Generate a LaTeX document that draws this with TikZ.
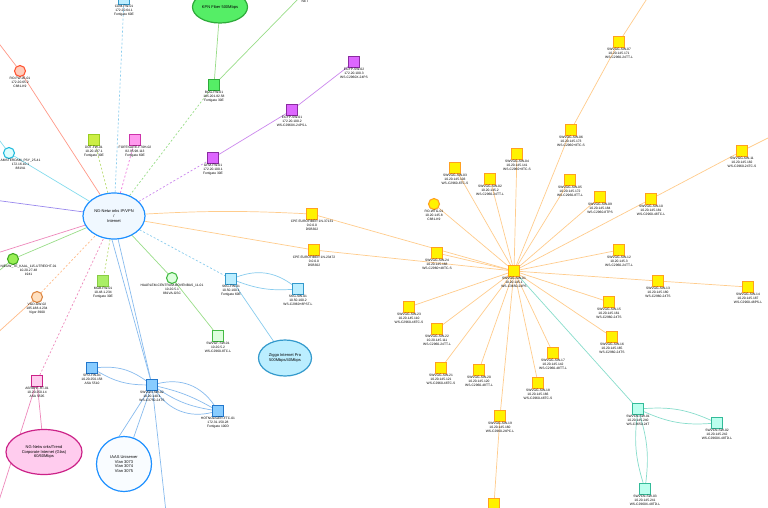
\documentclass[tikz,border=0pt]{standalone}
\usepackage{fontspec}
\setmainfont{Liberation Sans}
\usetikzlibrary{shapes.geometric}
\pgfdeclarelayer{bg}
\pgfsetlayers{bg,main}
\definecolor{cMainB}{HTML}{1E90FF}
\definecolor{cMainF}{HTML}{F0F8FF}
\definecolor{cOr}{HTML}{FFA020}
\definecolor{cYe}{HTML}{FFF200}
\definecolor{cOrL}{HTML}{FFCC8C}
\definecolor{cGrB}{HTML}{2EAA3A}
\definecolor{cGrF}{HTML}{55EE66}
\definecolor{cGrL}{HTML}{99DD88}
\definecolor{cPuB}{HTML}{8A2BA0}
\definecolor{cPuF}{HTML}{DD66FF}
\definecolor{cPuL}{HTML}{CC88EE}
\definecolor{cYgB}{HTML}{99CC22}
\definecolor{cYgF}{HTML}{CCEE44}
\definecolor{cYgL}{HTML}{BBDD77}
\definecolor{cMaB}{HTML}{CC33AA}
\definecolor{cMaF}{HTML}{FF99EE}
\definecolor{cMaL}{HTML}{EE77DD}
\definecolor{cSaB}{HTML}{FF5533}
\definecolor{cSaF}{HTML}{FFCCBB}
\definecolor{cSaL}{HTML}{FF9988}
\definecolor{cCyB}{HTML}{22BBDD}
\definecolor{cCyF}{HTML}{DDFFFF}
\definecolor{cCyL}{HTML}{88DDEE}
\definecolor{cViL}{HTML}{9988EE}
\definecolor{cPkL}{HTML}{EE88BB}
\definecolor{cLgB}{HTML}{44AA22}
\definecolor{cLgF}{HTML}{99EE55}
\definecolor{cPeB}{HTML}{DD8844}
\definecolor{cPeF}{HTML}{FFE0C0}
\definecolor{cPeL}{HTML}{FFBB88}
\definecolor{cMgB}{HTML}{88CC44}
\definecolor{cMgF}{HTML}{AAEE66}
\definecolor{cHaB}{HTML}{44BB44}
\definecolor{cHaF}{HTML}{DDFFDD}
\definecolor{cSkB}{HTML}{3399CC}
\definecolor{cSkF}{HTML}{BBEEFF}
\definecolor{cSkL}{HTML}{88CCEE}
\definecolor{cBlB}{HTML}{2277CC}
\definecolor{cBlF}{HTML}{88CCFF}
\definecolor{cBlL}{HTML}{88BBEE}
\definecolor{cPiB}{HTML}{CC2288}
\definecolor{cPiF}{HTML}{FFCCEE}
\definecolor{cTeB}{HTML}{33BB99}
\definecolor{cTeF}{HTML}{BBFFEE}
\definecolor{cTeL}{HTML}{88DDCC}
\begin{document}
\begin{tikzpicture}[x=1pt,y=-1pt,
 lbl/.style={font=\fontsize{3.3}{4}\selectfont, align=center, inner sep=0.4pt},
 sq/.style 2 args={rectangle, draw=#1, fill=#2, minimum size=11pt, inner sep=0pt, line width=1.1pt},
 ci/.style 2 args={circle, draw=#1, fill=#2, minimum size=11pt, inner sep=0pt, line width=1.1pt},
 cloud/.style 2 args={ellipse, draw=#1, fill=#2, inner sep=0pt, line width=1.2pt, font=\fontsize{4}{4.6}\selectfont, align=center},
 ed/.style={line width=0.7pt},
 dsh/.style={line width=0.7pt, dash pattern=on 2pt off 2pt}]
\useasboundingbox (0,0) rectangle (768,507);
\clip (0,0) rectangle (768,507);

% clouds
\node[cloud={cMainB}{cMainF}, minimum width=62pt, minimum height=46pt] (main) at (114,216) {NG-Netw orks IP/VPN\\/\\Internet};
\node[cloud={cGrB}{cGrF}, minimum width=55pt, minimum height=32pt] (kpn) at (220,7) {KPN Fiber 500Mbps};
\node[cloud={cSkB}{cSkF}, minimum width=53pt, minimum height=36pt] (ziggo) at (285,358) {Ziggo Internet Pro\\500Mbps/40Mbps};
\node[cloud={cMainB}{white!60!cMainF}, circle, minimum size=55pt] (iaas) at (124,464) {IAAS Uniserver\\Vlan 3073\\Vlan 3074\\Vlan 3075};
\node[cloud={cPiB}{cPiF}, minimum width=76pt, minimum height=45pt] (pinkc) at (44,452) {NG-Netw orks/Trend\\Corporate Internet (Glas)\\60/60Mbps};

% left / top nodes
\node[sq={cSkB}{cSkF}, label={[lbl]below:{CDM-FW-01\\172.20.64.1\\Fortigate 60E}}] (cdm) at (124,-1) {};
\node[sq={cGrB}{cGrF}, label={[lbl]below:{BOG-FW-01\\185.201.82.58\\Fortigate 30E}}] (bog) at (214,85) {};
\node[sq={cPuB}{cPuF}, label={[lbl]below:{GFM-FW-01\\172.20.100.1\\Fortigate 30E}}] (gfm) at (213,158) {};
\node[sq={cPuB}{cPuF}, label={[lbl]below:{EGYP-SW-01\\172.20.100.2\\WS-C2960X-24PS-L}}] (eg1) at (292,110) {};
\node[sq={cPuB}{cPuF}, label={[lbl]below:{EGYP-SW-02\\172.20.100.3\\WS-C2960X-24PS}}] (eg2) at (354,62) {};
\node[ci={cSaB}{cSaF}, label={[lbl]below:{RO-FW-05-01\\172.20.65.2\\C881-K9}}] (rofw) at (20,71) {};
\node[ci={cCyB}{cCyF}] (ams) at (9,153) {};
\node[lbl, anchor=north west] (amsl) at (0,158.5) {AMSTERDAM\_PSY\_25-41\\172.16.10.1\\881VA};
\node[sq={cYgB}{cYgF}, label={[lbl]below:{DDT-FW-01\\10.20.187.1\\Fortigate 30E}}] (ddt) at (94,140) {};
\node[sq={cMaB}{cMaF}, label={[lbl]below:{FORTIGATE-F70H-02\\82.95.98.113\\Fortigate 60E}}] (ftg) at (135,140) {};
\node[ci={cLgB}{cLgF}] (nieuw) at (13,259) {};
\node[lbl, anchor=north west] (nieuwl) at (0,264.5) {NIEUW\_TE\_KAAL\_115-UTRECHT-01\\10.20.27.48\\1941};
\node[ci={cPeB}{cPeF}, label={[lbl]below:{VGD-GW-02\\185.188.4.234\\Vigor 3900}}] (vgd) at (37,297) {};
\node[sq={cMgB}{cMgF}, label={[lbl]below:{MGB-FW-01\\10.48.1.234\\Fortigate 30E}}] (mgb) at (103,281) {};
\node[ci={cHaB}{cHaF}, label={[lbl]below:{HAARLEM-CENTRUM-BOVENBAS\_11-01\\10.20.5.1\\881VA-GSC}}] (haar) at (172,278) {};
\node[sq={cHaB}{cHaF}, label={[lbl]below:{SWVGF-SW-01\\10.20.5.2\\WS-C2960-8TC-L}}] (swvgf) at (218,336) {};
\node[sq={cSkB}{cSkF}, label={[lbl]below:{SKG-FW-01\\10.50.100.1\\Fortigate 60E}}] (skgfw) at (231,279) {};
\node[sq={cSkB}{cSkF}, label={[lbl]below:{SKG-SW-01\\10.50.100.2\\WS-C2960+8PST-L}}] (skgsw) at (298,289) {};
\node[sq={cOr}{cYe}, label={[lbl]below:{CPE EUROFIBER 1N-37131\\0.0.0.0\\DSB302}}] (cpe1) at (312,214) {};
\node[sq={cOr}{cYe}, label={[lbl]below:{CPE EUROFIBER 1N-23472\\0.0.0.0\\DSB302}}] (cpe2) at (314,250) {};
\node[sq={cBlB}{cBlF}, label={[lbl]below:{SPD-FW-01\\10.20.250.158\\ASA 5510}}] (spd) at (92,368) {};
\node[sq={cBlB}{cBlF}, label={[lbl]below:{SWVGN-SW-02\\10.20.140.1\\WS-C3750-24TS}}] (swvgn) at (152,385) {};
\node[sq={cBlB}{cBlF}, label={[lbl]below:{HOTNOLIGER-FTC-01\\172.31.150.28\\Fortigate 100D}}] (hotn) at (218,411) {};
\node[sq={cPiB}{cPiF}, label={[lbl]below:{ASRBHF-RT-01\\10.20.250.14\\ASA 5505}}] (asr) at (37,381) {};
\node[lbl, anchor=north] (netl) at (305,0) {NET};

% yellow cluster
\node[sq={cOr}{cYe}, label={[lbl]below:{SWVGG-SW-01\\10.20.145.1\\WS-C3650-24PS}}] (hub) at (514,271) {};
\node[sq={cOr}{cYe}, label={[lbl]below:{SWVGG-SW-03\\10.20.145.103\\WS-C2960-8TC-S}}] (ya) at (455,168) {};
\node[sq={cOr}{cYe}, label={[lbl]below:{SWVGG-SW-02\\10.20.145.2\\WS-C2960-24TT-L}}] (yb) at (490,179) {};
\node[sq={cOr}{cYe}, label={[lbl]below:{SWVGG-SW-04\\10.20.145.141\\WS-C2960+8TC-S}}] (yc) at (517,154) {};
\node[sq={cOr}{cYe}, label={[lbl]below:{SWVGG-SW-05\\10.20.145.172\\WS-C2960-8TT-L}}] (yd) at (570,180) {};
\node[sq={cOr}{cYe}, label={[lbl]below:{SWVGG-SW-06\\10.20.145.173\\WS-C2960+8TC-S}}] (ye) at (571,130) {};
\node[sq={cOr}{cYe}, label={[lbl]below:{SWVGG-SW-07\\10.20.145.171\\WS-C2960-24TT-L}}] (yf) at (619,42) {};
\node[sq={cOr}{cYe}, label={[lbl]below:{SWVGG-SW-09\\10.20.145.184\\WS-C2960-8TPS}}] (yg) at (600,197) {};
\node[sq={cOr}{cYe}, label={[lbl]below:{SWVGG-SW-10\\10.20.145.181\\WS-C2960-48TC-L}}] (yh) at (651,199) {};
\node[sq={cOr}{cYe}, label={[lbl]below:{SWVGG-SW-11\\10.20.145.182\\WS-C2960-24TC-S}}] (yi) at (742,151) {};
\node[sq={cOr}{cYe}, label={[lbl]below:{SWVGG-SW-12\\10.20.145.3\\WS-C2960-24TT-L}}] (yj) at (619,250) {};
\node[sq={cOr}{cYe}, label={[lbl]below:{SWVGG-SW-13\\10.20.145.180\\WS-C2960-24TS}}] (yk) at (658,281) {};
\node[sq={cOr}{cYe}, label={[lbl]below:{SWVGG-SW-14\\10.20.145.187\\WS-C2960-48PS-L}}] (yl) at (748,287) {};
\node[sq={cOr}{cYe}, label={[lbl]below:{SWVGG-SW-15\\10.20.145.161\\WS-C2960-24TS}}] (ym) at (609,302) {};
\node[sq={cOr}{cYe}, label={[lbl]below:{SWVGG-SW-16\\10.20.145.165\\WS-C2960-24TS}}] (yn) at (612,337) {};
\node[sq={cOr}{cYe}, label={[lbl]below:{SWVGG-SW-17\\10.20.145.142\\WS-C2960-48TT-L}}] (yo) at (553,353) {};
\node[sq={cOr}{cYe}, label={[lbl]below:{SWVGG-SW-18\\10.20.145.166\\WS-C2960-48TC-S}}] (yp) at (538,383) {};
\node[sq={cOr}{cYe}, label={[lbl]below:{SWVGG-SW-19\\10.20.145.160\\WS-C2960-24PC-L}}] (yq) at (500,416) {};
\node[sq={cOr}{cYe}] (yr) at (494,504) {};
\node[sq={cOr}{cYe}, label={[lbl]below:{SWVGG-SW-20\\10.20.145.120\\WS-C2960-48TT-L}}] (ys) at (479,370) {};
\node[sq={cOr}{cYe}, label={[lbl]below:{SWVGG-SW-21\\10.20.145.121\\WS-C2960-48TC-S}}] (yt) at (441,368) {};
\node[sq={cOr}{cYe}, label={[lbl]below:{SWVGG-SW-22\\10.20.145.111\\WS-C2960-24TT-L}}] (yu) at (437,329) {};
\node[sq={cOr}{cYe}, label={[lbl]below:{SWVGG-SW-23\\10.20.145.110\\WS-C2960-48TC-S}}] (yv) at (409,307) {};
\node[sq={cOr}{cYe}, label={[lbl]below:{SWVGG-SW-24\\10.20.145.168\\WS-C2960+48TC-S}}] (yw) at (437,253) {};
\node[ci={cOr}{cYe}, label={[lbl]below:{RO-WTG-01\\10.20.145.8\\C881-K9}}] (yx) at (434,204) {};
\node[sq={cTeB}{cTeF}, label={[lbl]below:{SWVCN-SW-01\\10.20.145.240\\WS-C3650-24T}}] (t1) at (638,409) {};
\node[sq={cTeB}{cTeF}, label={[lbl]below:{SWVCN-SW-02\\10.20.145.242\\WS-C2960X-48TD-L}}] (t2) at (717,423) {};
\node[sq={cTeB}{cTeF}, label={[lbl]below:{SWVCN-SW-03\\10.20.145.241\\WS-C2960X-48TD-L}}] (t3) at (645,489) {};

% free ends
\coordinate (oBog) at (303,-6);
\coordinate (oRo) at (-6,37);
\coordinate (oAms) at (-6,133);
\coordinate (oVi) at (-6,200);
\coordinate (oPk) at (-6,254);
\coordinate (oNi) at (-6,275);
\coordinate (oVg) at (-6,336);
\coordinate (oAsr) at (-4,510);
\coordinate (oSw) at (166,512);
\coordinate (oYf) at (650,-6);
\coordinate (oYi) at (776,134);

\begin{pgfonlayer}{bg}
\fill[white] (0,0) rectangle (768,507);
\draw[dsh, cSkL] (main) -- (cdm);
\draw[ed, cGrL] (kpn) -- (bog);
\draw[ed, cGrL] (bog) -- (oBog);
\draw[dsh, cGrL] (main) -- (bog);
\draw[dsh, cPuL] (main) -- (gfm);
\draw[ed, cPuL] (gfm) -- (eg1);
\draw[ed, cPuL] (eg1) -- (eg2);
\draw[ed, cSaL] (oRo) -- (rofw);
\draw[ed, cSaL] (rofw) -- (main);
\draw[ed, cCyL] (oAms) -- (ams);
\draw[ed, cCyL] (ams) -- (main);
\draw[ed, cViL] (oVi) -- (main);
\draw[ed, cPkL] (oPk) -- (main);
\draw[ed, cGrL] (oNi) -- (nieuw);
\draw[ed, cGrL] (nieuw) -- (main);
\draw[dsh, cPeL] (vgd) -- (main);
\draw[ed, cPeL] (vgd) -- (oVg);
\draw[dsh, cYgL] (main) -- (mgb);
\draw[dsh, cYgL] (main) -- (ddt);
\draw[dsh, cMaL] (main) -- (ftg);
\draw[ed, cGrL] (main) -- (haar);
\draw[ed, cGrL] (haar) -- (swvgf);
\draw[dsh, cSkL] (main) -- (skgfw);
\draw[ed, cSkL] (skgfw) to[bend left=28] (skgsw);
\draw[ed, cSkL] (skgfw) to[bend right=12] (skgsw);
\draw[ed, cSkL] (skgfw) -- (ziggo);
\draw[ed, cOrL] (main) to[bend left=3] (cpe1);
\draw[ed, cOrL] (main) -- (cpe2);
\draw[ed, cOrL] (cpe1) -- (hub);
\draw[ed, cOrL] (cpe2) -- (hub);
\draw[ed, cBlL] (main.-95) -- (swvgn);
\draw[ed, cBlL] (main.-80) -- (swvgn);
\draw[ed, cBlL] (spd) to[bend left=20] (swvgn);
\draw[ed, cBlL] (spd) to[bend right=15] (swvgn);
\draw[ed, cBlL] (swvgn) to[bend left=35] (hotn);
\draw[ed, cBlL] (swvgn) to[bend left=8] (hotn);
\draw[ed, cBlL] (swvgn) to[bend right=12] (hotn);
\draw[ed, cBlL] (swvgn) to[bend right=35] (hotn);
\draw[ed, cBlL] (swvgn) -- (iaas.70);
\draw[ed, cBlL] (swvgn) -- (iaas.100);
\draw[ed, cBlL] (swvgn) -- (oSw);
\draw[dsh, cPkL] (asr) -- (main);
\draw[ed, cPkL] (asr) -- (pinkc);
\draw[ed, cPkL] (asr) -- (oAsr);
\foreach \n in {ya,yb,yc,yd,ye,yg,yh,yj,yk,ym,yn,yo,yp,yq,ys,yt,yu,yv,yw,yx}
  \draw[ed, cOrL] (hub) -- (\n);
\draw[ed, cOrL] (ye) -- (yf);
\draw[ed, cOrL] (yf) -- (oYf);
\draw[ed, cOrL] (yh) -- (yi);
\draw[ed, cOrL] (yi) -- (oYi);
\draw[ed, cOrL] (yk) -- (yl);
\draw[ed, cOrL] (yq) -- (yr);
\draw[ed, cTeL] (hub) -- (t1);
\draw[ed, cTeL] (t1) to[bend left=14] (t2);
\draw[ed, cTeL] (t1) to[bend right=14] (t2);
\draw[ed, cTeL] (t1) to[bend left=12] (t3);
\draw[ed, cTeL] (t1) to[bend right=12] (t3);
\end{pgfonlayer}
\end{tikzpicture}
\end{document}
